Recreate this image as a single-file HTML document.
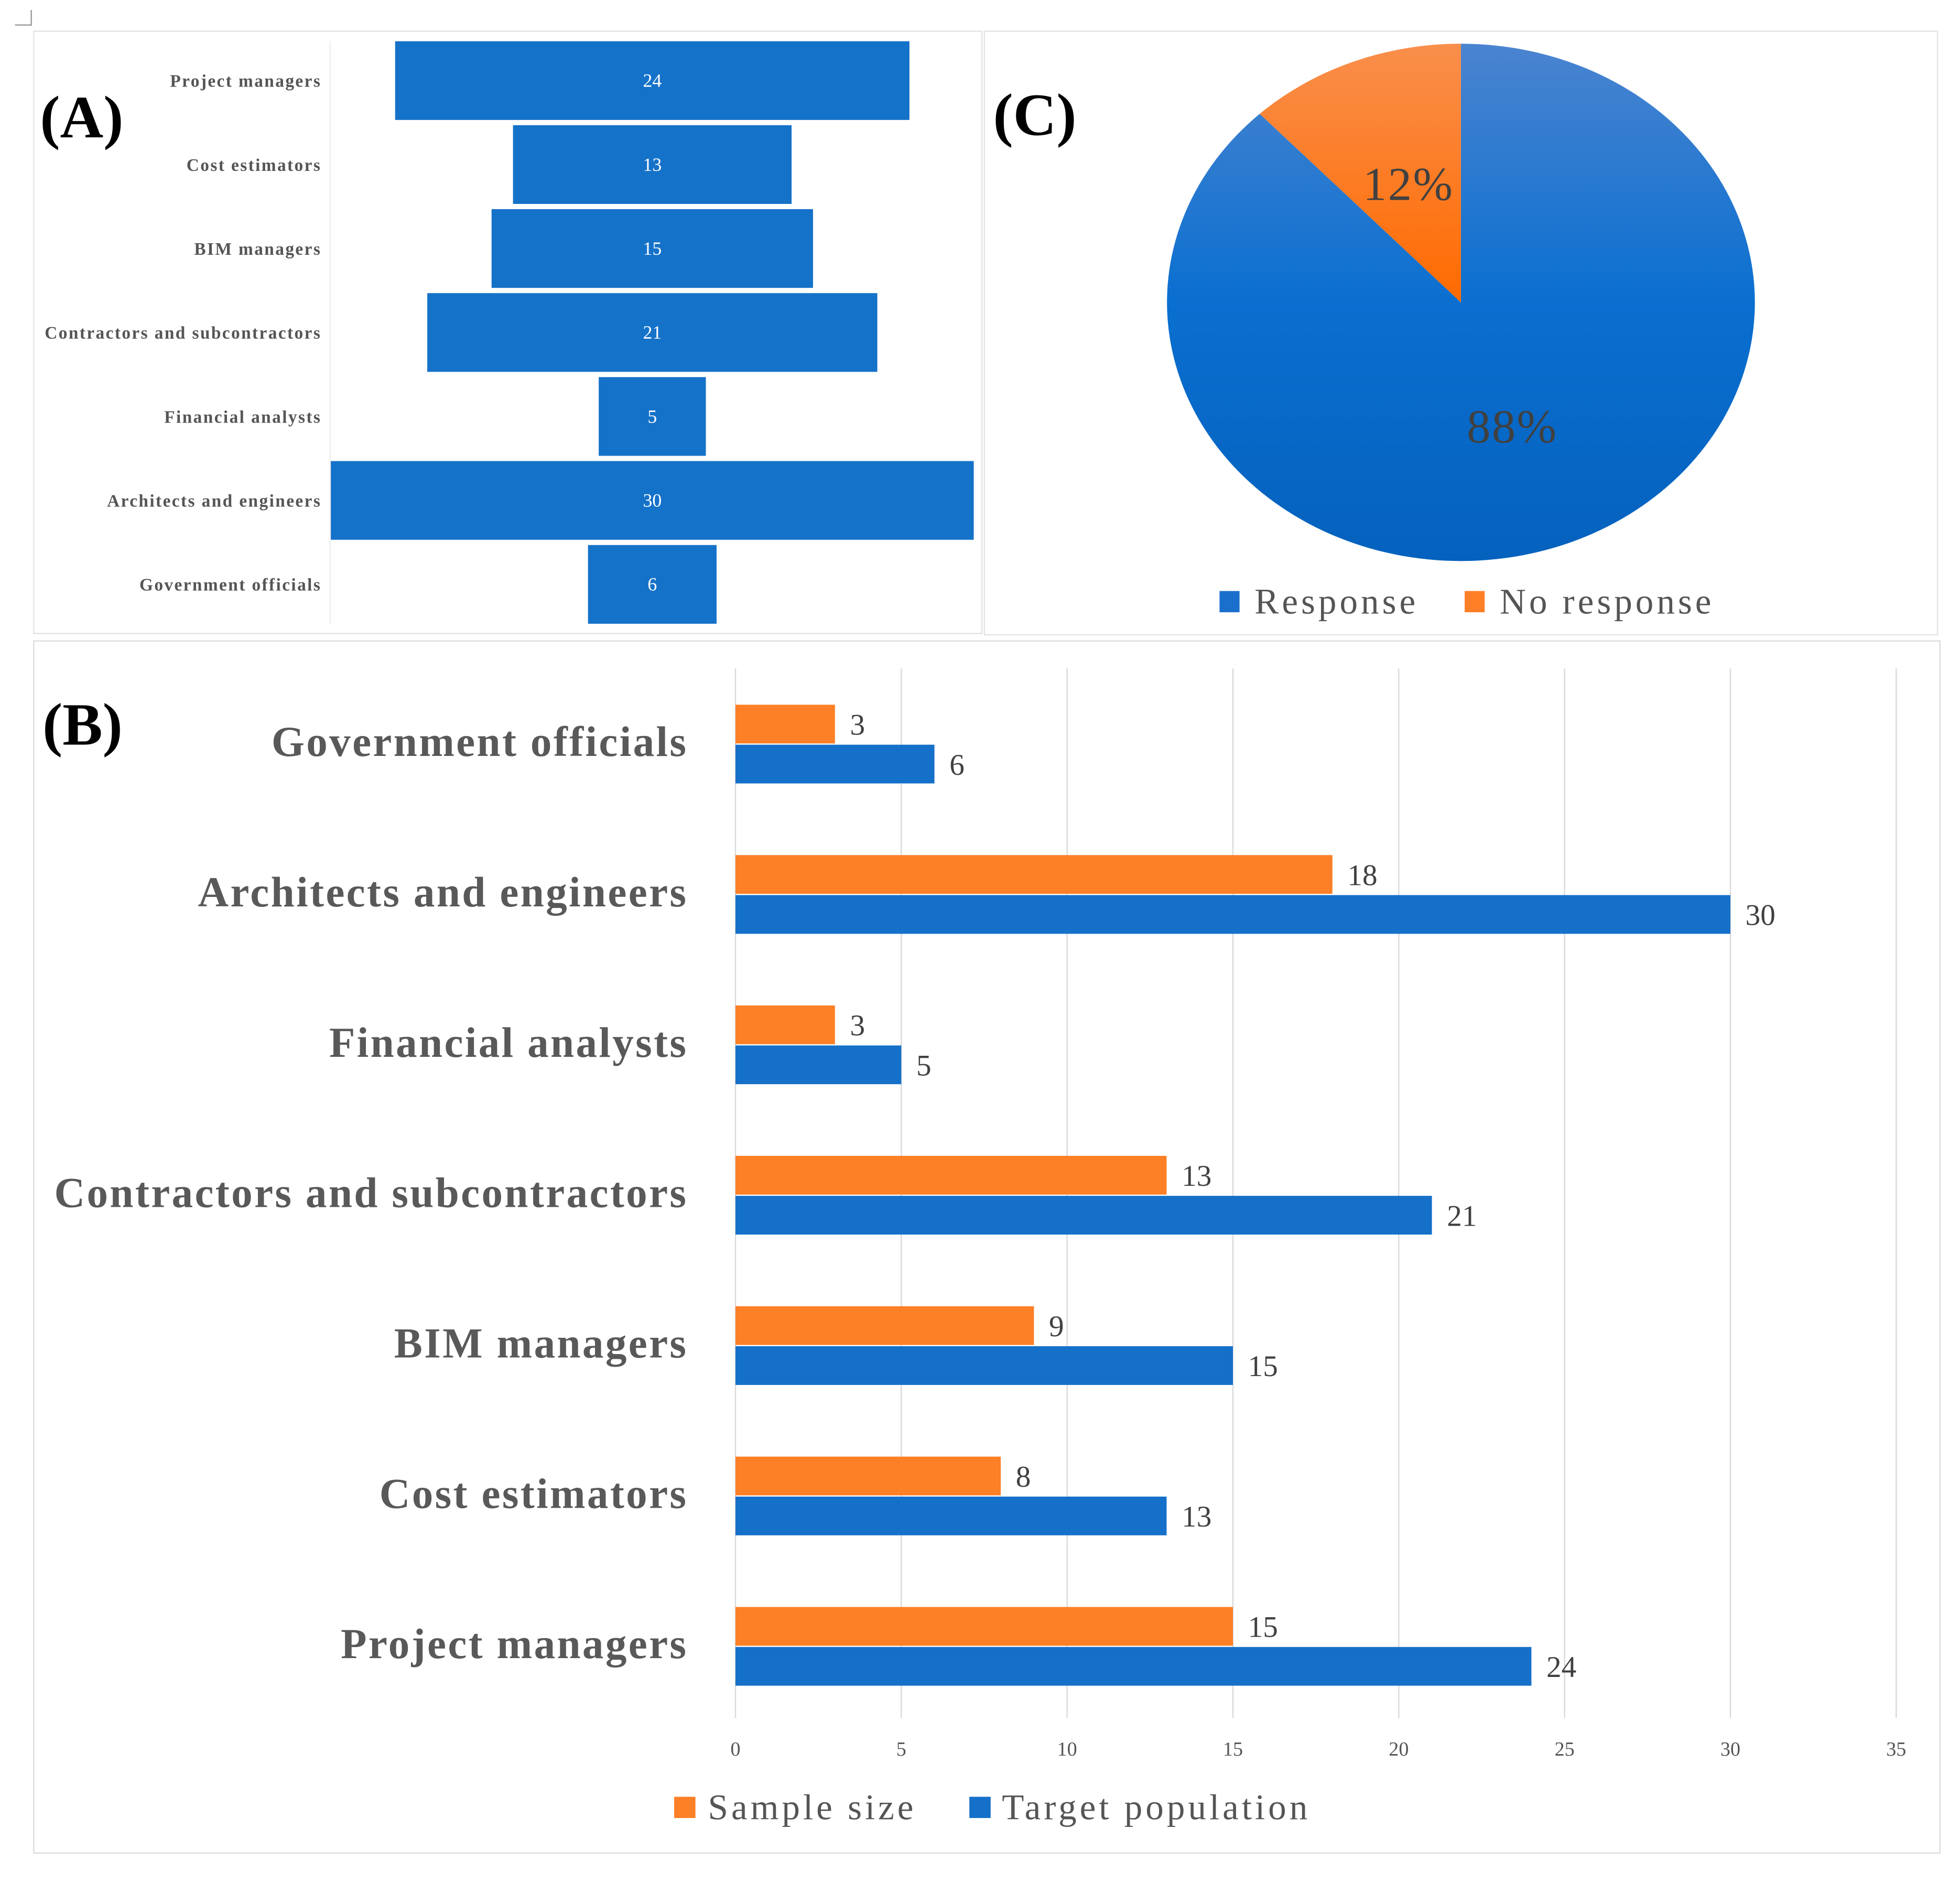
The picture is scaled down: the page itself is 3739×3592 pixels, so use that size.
<!DOCTYPE html>
<html><head><meta charset="utf-8"><style>
html,body{margin:0;padding:0;background:#fff}
svg{display:block}
text{font-family:"Liberation Serif",serif}
</style></head><body>
<svg id="fig" width="3739" height="3592" viewBox="0 0 1567 1507" preserveAspectRatio="none" xmlns="http://www.w3.org/2000/svg">
<defs>
<linearGradient id="gb" x1="0" y1="0" x2="0" y2="1"><stop offset="0" stop-color="#4a84d0"/><stop offset="0.5" stop-color="#0a6fd0"/><stop offset="1" stop-color="#0561bd"/></linearGradient>
<linearGradient id="go" x1="0" y1="0" x2="0" y2="1"><stop offset="0" stop-color="#f98f4c"/><stop offset="1" stop-color="#ff6a00"/></linearGradient>
</defs>
<rect x="0" y="0" width="1567" height="1507" fill="#fff"/>
<path d="M12 20 H25 V8" fill="none" stroke="#999" stroke-width="1"/>
<rect x="27" y="25" width="758" height="482" fill="#fff" stroke="#e3e3e3"/>
<rect x="787" y="25" width="762" height="483" fill="#fff" stroke="#e3e3e3"/>
<rect x="27" y="513" width="1524" height="970" fill="#fff" stroke="#dcdcdc"/>
<line x1="264" y1="33" x2="264" y2="500" stroke="#eee"/>
<g id="funnel"></g>
<g id="pie"></g>
<g id="barsB"></g>
<text x="32" y="110" font-size="48" font-weight="bold" fill="#000">(A)</text>
<text x="794" y="108" font-size="48" font-weight="bold" fill="#000">(C)</text>
<text x="34" y="596" font-size="48" font-weight="bold" fill="#000">(B)</text>
</svg>
<script>
const ns="http://www.w3.org/2000/svg";
function mk(tag,attrs,parent,txt){const e=document.createElementNS(ns,tag);for(const k in attrs)e.setAttribute(k,attrs[k]);if(txt!==undefined)e.textContent=txt;parent.appendChild(e);return e;}

// ---- Panel A data (funnel) ----
const funnelCats=["Project managers","Cost estimators","BIM managers","Contractors and subcontractors","Financial analysts","Architects and engineers","Government officials"];
const funnelVals=[24,13,15,21,5,30,6];

// ---- Panel B data ----
const bCats=["Government officials","Architects and engineers","Financial analysts","Contractors and subcontractors","BIM managers","Cost estimators","Project managers"];
const sampleSize=[3,18,3,13,9,8,15];
const targetPop=[6,30,5,21,15,13,24];
const bTicks=[0,5,10,15,20,25,30,35];

// ---- Panel C data ----
const pieLabels=["Response","No response"];
const pieVals=[88,12];

// Funnel
const fg=document.getElementById('funnel');
const fCx=521.5, fUnit=514/30, fTop=33, fStep=67.2, fH=63;
funnelCats.forEach((c,i)=>{
  const w=funnelVals[i]*fUnit, y=fTop+i*fStep;
  const r=mk('rect',{x:fCx-w/2,y:y,width:w,height:fH,fill:'#1572c9'},fg);
  
  
  const t=mk('text',{x:fCx,y:y+fH/2+5,'font-size':15,fill:'#fff','text-anchor':'middle'},fg,String(funnelVals[i]));
  
  
  const l=mk('text',{x:257,y:y+fH/2+5,'font-size':14,'font-weight':'bold',fill:'#555','text-anchor':'end','letter-spacing':1},fg,c);
  
  
});

// Pie
const pg=document.getElementById('pie');
const cx=1168, cy=242, rx=235, ry=207;
const total=pieVals.reduce((a,b)=>a+b,0);
function pt(th){return [cx+rx*Math.sin(th), cy-ry*Math.cos(th)];}
let start=0;
const fills=['url(#gb)','url(#go)'];
pieVals.forEach((v,i)=>{
  const ang=v/total*2*Math.PI;
  const a0=start, a1=start+ang;
  const p0=pt(a0), p1=pt(a1);
  const large=ang>Math.PI?1:0;
  const p=mk('path',{d:`M${cx},${cy} L${p0[0]},${p0[1]} A${rx},${ry} 0 ${large} 1 ${p1[0]},${p1[1]} Z`,fill:fills[i]},pg);
  
  
  start=a1;
});
const lbl1=mk('text',{x:1209,y:354,'font-size':38,fill:'#404040','text-anchor':'middle','letter-spacing':1},pg,pieVals[0]+'%');


const lbl2=mk('text',{x:1126,y:160,'font-size':38,fill:'#404040','text-anchor':'middle','letter-spacing':1},pg,pieVals[1]+'%');


const legC=[[975,'#1a6fcc',1003],[1171,'#ff7f27',1199]];
pieLabels.forEach((n,i)=>{
  const s=mk('rect',{x:legC[i][0],y:473,width:16,height:17,fill:legC[i][1]},pg);
  
  
  const t=mk('text',{x:legC[i][2],y:491,'font-size':29,fill:'#555','letter-spacing':2.5},pg,n);
  
  
});

// Panel B bars
const bg=document.getElementById('barsB');
const x0=588, unit=(1516-588)/35;
const xs=v=>x0+v*unit;
const yTop=564, step=120.35, bh=31;
bTicks.forEach(t=>{
  const g=mk('line',{x1:xs(t),y1:535,x2:xs(t),y2:1375,stroke:'#d9d9d9','stroke-width':1},bg);
  
  
  const l=mk('text',{x:xs(t),y:1405,'font-size':16,fill:'#555','text-anchor':'middle'},bg,String(t));
  
  
});
bCats.forEach((c,i)=>{
  const y=yTop+i*step;
  const o=mk('rect',{x:x0,y:y,width:xs(sampleSize[i])-x0,height:bh,fill:'#fd7f26'},bg);
  
  
  const b=mk('rect',{x:x0,y:y+bh+1,width:xs(targetPop[i])-x0,height:bh,fill:'#1570c9'},bg);
  
  
  const vo=mk('text',{x:xs(sampleSize[i])+12,y:y+24,'font-size':24,fill:'#404040'},bg,String(sampleSize[i]));
  
  
  const vb=mk('text',{x:xs(targetPop[i])+12,y:y+bh+25,'font-size':24,fill:'#404040'},bg,String(targetPop[i]));
  
  
  const cl=mk('text',{x:550,y:y+41,'font-size':34,'font-weight':'bold',fill:'#595959','text-anchor':'end','letter-spacing':1.4},bg,c);
  
  
});
const legB=[[539,'#fd7f26',566,'Sample size'],[775,'#1570c9',801,'Target population']];
legB.forEach((L,i)=>{
  const s=mk('rect',{x:L[0],y:1438,width:17,height:17,fill:L[1]},bg);
  
  
  const t=mk('text',{x:L[2],y:1456,'font-size':29,fill:'#555','letter-spacing':2.5},bg,L[3]);
  
  
});
</script>
</body></html>
